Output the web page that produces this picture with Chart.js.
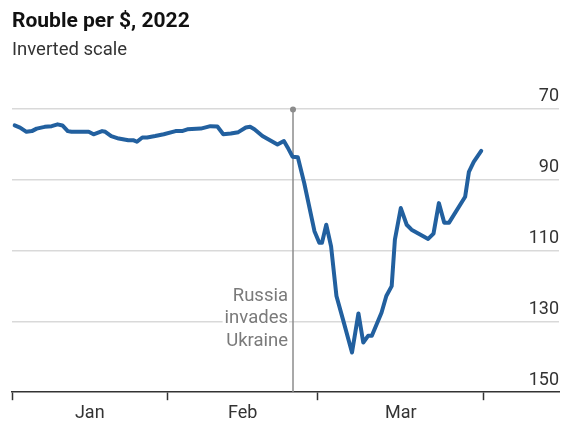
<!DOCTYPE html>
<html>
<head>
<meta charset="utf-8">
<script src="https://cdn.jsdelivr.net/npm/chart.js@4"></script>
<style>
  html, body { margin: 0; padding: 0; background: #fff; }
</style>
</head>
<body>
<canvas id="chart" width="563" height="426"></canvas>
<script>
// day of year, 0 = Jan 1st 2022
const days = [2.5, 3.5, 4.7, 5.7, 6.6, 8.1, 9.4, 10.5, 11.4, 12.4, 13.1, 16.3, 17.2, 18.8, 19.4, 20.5,
  21.9, 23.7, 24.7, 25.3, 26.3, 27.2, 28.7, 30.3, 32.5, 33.7, 34.7, 37.2, 39.0, 40.3, 41.4, 42.8,
  44.2, 45.6, 46.4, 47.2, 48.7, 50.1, 51.5, 52.7, 53.4, 54.3, 55.3, 56.5, 58.4, 59.3, 59.8, 60.6,
  61.5, 62.5, 63.7, 65.4, 66.6, 67.5, 68.4, 69.1, 70.9, 71.8, 72.8, 73.4, 74.5, 75.6, 76.5, 79.6,
  80.6, 81.6, 82.6, 83.5, 86.5, 87.2, 88.1, 89.5];
const rouble = [74.8, 75.4, 76.6, 76.4, 75.7, 75.2, 75.0, 74.5, 74.8, 76.4, 76.6, 76.6, 77.3, 76.4, 76.6, 77.8,
  78.5, 79.0, 79.0, 79.4, 78.2, 78.2, 77.8, 77.3, 76.4, 76.4, 75.9, 75.7, 75.0, 75.1, 77.3, 77.1,
  76.7, 75.4, 75.2, 75.9, 77.8, 79.0, 80.2, 79.2, 81.0, 83.6, 83.8, 91.1, 104.6, 107.9, 107.9, 102.8,
  108.9, 122.9, 129.4, 138.8, 127.8, 136.0, 134.1, 134.1, 127.6, 122.9, 120.1, 107.0, 98.1, 102.8, 104.2, 106.8,
  105.3, 96.7, 102.2, 102.2, 94.9, 87.9, 85.1, 82.0];

const monthStarts = [2, 31, 59, 90];
const monthLabels = ["Jan", "Feb", "Mar"];
const yTicks = [70, 90, 110, 130, 150];
const invasionDay = 54.4;
const invasionText = ["Russia", "invades", "Ukraine"];

const labelDays = monthLabels.map((m, i) => (monthStarts[i] + monthStarts[i + 1]) / 2);
const xTicks = monthStarts.concat(labelDays).sort((a, b) => a - b);

const invasion = {
  id: "invasion",
  beforeDatasetsDraw(chart) {
    const { ctx, chartArea, scales } = chart;
    const x = scales.x.getPixelForValue(invasionDay);
    ctx.save();
    ctx.strokeStyle = "#8c8c8c";
    ctx.lineWidth = 1.5;
    ctx.beginPath();
    ctx.moveTo(x, chartArea.top + 1);
    ctx.lineTo(x, chartArea.bottom);
    ctx.stroke();
    ctx.fillStyle = "#8c8c8c";
    ctx.beginPath();
    ctx.arc(x, chartArea.top + 1, 3, 0, Math.PI * 2);
    ctx.fill();

    ctx.font = "18.5px Roboto";
    ctx.textAlign = "right";
    ctx.textBaseline = "middle";
    const lineH = 22.5;
    const top = 296;
    invasionText.forEach((t, i) => {
      const y = top + i * lineH;
      const w = ctx.measureText(t).width;
      ctx.fillStyle = "#fff";
      ctx.fillRect(x - 5 - w - 2, y - 10, w + 3, 20);
      ctx.fillStyle = "#7a7a7a";
      ctx.fillText(t, x - 5, y);
    });
    ctx.restore();
  }
};

new Chart(document.getElementById("chart"), {
  type: "line",
  data: {
    datasets: [{
      data: days.map((d, i) => ({ x: d, y: rouble[i] })),
      borderColor: "#22609f",
      borderWidth: 4,
      pointRadius: 0,
      tension: 0,
      borderJoinStyle: "round",
      borderCapStyle: "round"
    }]
  },
  options: {
    responsive: false,
    animation: false,
    layout: { padding: { left: 12, right: 4, top: 0, bottom: 0 } },
    plugins: {
      legend: { display: false },
      tooltip: { enabled: false },
      title: {
        display: true,
        text: "Rouble per $, 2022",
        align: "start",
        color: "#111",
        font: { family: "Roboto", size: 21, weight: "bold" },
        padding: { top: 9, bottom: 5 }
      },
      subtitle: {
        display: true,
        text: "Inverted scale",
        align: "start",
        color: "#333",
        font: { family: "Roboto", size: 18.5 },
        padding: { top: 0, bottom: 47 }
      }
    },
    scales: {
      x: {
        type: "linear",
        min: 2,
        max: 104,
        afterBuildTicks(scale) { scale.ticks = xTicks.map(v => ({ value: v })); },
        grid: {
          drawOnChartArea: false,
          tickLength: 8,
          tickWidth: 1.5,
          tickColor: ctx => monthStarts.includes(ctx.tick.value) ? "#333" : "rgba(0,0,0,0)"
        },
        border: { color: "#333", width: 1.5 },
        ticks: {
          autoSkip: false,
          maxRotation: 0,
          padding: 3,
          color: "#333",
          font: { family: "Roboto", size: 18, lineHeight: 1.1 },
          callback: v => {
            const i = labelDays.indexOf(v);
            return i >= 0 ? monthLabels[i] : "";
          }
        }
      },
      y: {
        position: "right",
        reverse: true,
        min: 70,
        max: 150,
        afterBuildTicks(scale) { scale.ticks = yTicks.map(v => ({ value: v })); },
        grid: {
          drawTicks: false,
          lineWidth: 1.5,
          color: ctx => ctx.tick.value === 150 ? "rgba(0,0,0,0)" : "#d9d9d9"
        },
        border: { display: false },
        ticks: {
          mirror: true,
          padding: 0,
          labelOffset: -12,
          color: "#333",
          font: { family: "Roboto", size: 18 }
        }
      }
    }
  },
  plugins: [invasion]
});
</script>
</body>
</html>
